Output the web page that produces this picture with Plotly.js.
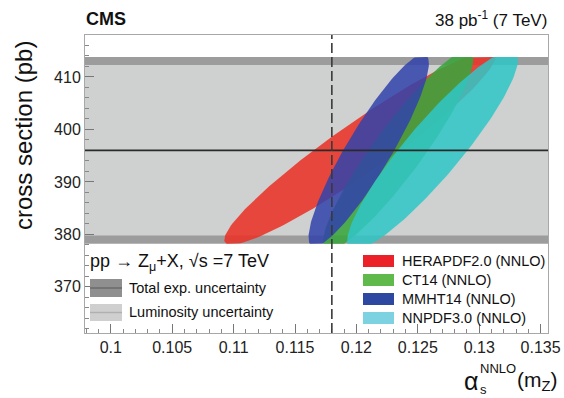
<!DOCTYPE html>
<html>
<head>
<meta charset="utf-8">
<script src="https://cdn.plot.ly/plotly-3.0.1.min.js"></script>
<style>html,body{margin:0;padding:0;background:#fff;}#chart{width:564px;height:398px;}</style>
</head>
<body>
<div id="chart"></div>
<script>
// ---- data ----
const pdfNames = ['HERAPDF2.0 (NNLO)', 'CT14 (NNLO)', 'MMHT14 (NNLO)', 'NNPDF3.0 (NNLO)'];
const alphaCenter = [0.1203, 0.1234, 0.1210, 0.1262];      // ellipse centre, alpha_s
const sigmaCenter = [396.5, 396.0, 396.0, 396.0];          // ellipse centre, pb
const alphaHalfWidth = [0.01106, 0.00612, 0.00490, 0.00696];
const sigmaHalfWidth = [18.46, 19.0, 18.34, 19.0];
const correlation = [0.948, 0.917, 0.905, 0.912];
const measuredSigma = 396.0;
const lumiBand = [379.8, 412.3];
const totalBand = [378.2, 413.8];
const alphaRef = 0.118;
const xTickVals = [0.1, 0.105, 0.11, 0.115, 0.12, 0.125, 0.13, 0.135];
const yTickVals = [370, 380, 390, 400, 410];

const fillColors = ['rgba(234,50,40,0.88)', 'rgba(58,165,60,0.88)', 'rgba(50,66,170,0.86)', 'rgba(48,198,198,0.86)'];
const legendColors = ['rgb(235,32,40)', 'rgb(95,185,75)', 'rgb(45,72,160)', 'rgb(125,210,225)'];

// ---- build ellipse outlines from the parameters ----
const N = 180;
const traces = pdfNames.map((name, i) => {
  const xs = [], ys = [];
  const r = correlation[i], q = Math.sqrt(1 - r * r);
  for (let k = 0; k <= N; k++) {
    const t = 2 * Math.PI * k / N;
    let x = alphaCenter[i] + alphaHalfWidth[i] * Math.cos(t);
    let y = sigmaCenter[i] + sigmaHalfWidth[i] * (r * Math.cos(t) + q * Math.sin(t));
    y = Math.min(Math.max(y, totalBand[0]), totalBand[1]);
    xs.push(x); ys.push(y);
  }
  return {x: xs, y: ys, type: 'scatter', mode: 'lines', fill: 'toself',
          fillcolor: fillColors[i], line: {width: 0, color: fillColors[i]},
          name: name, showlegend: false, hoverinfo: 'skip'};
});

const xLo = 0.0979, xHi = 0.1356, yLo = 361.2, yHi = 418.0;
const pl = 85, pr = 548, pt = 35, pb = 333;
const px = v => (v - pl) / (pr - pl);
const py = v => (pb - v) / (pb - pt);

const shapes = [
  {type: 'rect', xref: 'paper', yref: 'y', x0: 0, x1: 1, y0: totalBand[0], y1: totalBand[1],
   fillcolor: '#9c9c9c', line: {width: 0}, layer: 'below'},
  {type: 'rect', xref: 'paper', yref: 'y', x0: 0, x1: 1, y0: lumiBand[0], y1: lumiBand[1],
   fillcolor: '#cfd0d0', line: {width: 0}, layer: 'below'},
  {type: 'line', xref: 'paper', yref: 'y', x0: 0, x1: 1, y0: measuredSigma, y1: measuredSigma,
   line: {color: '#2a2a2a', width: 1.6}, layer: 'above'},
  {type: 'line', xref: 'x', yref: 'paper', x0: alphaRef, x1: alphaRef, y0: 0, y1: 1,
   line: {color: '#3a3a3a', width: 1.6, dash: '10px,4px'}, layer: 'above'},
];

// left legend boxes
const leftBoxes = [{y0: 279, y1: 297, fill: '#8f8f8f', line: '#6a6a6a'}, {y0: 304, y1: 321, fill: '#cfcfcf', line: '#b0b0b0'}];
leftBoxes.forEach(b => {
  shapes.push({type: 'rect', xref: 'paper', yref: 'paper', x0: px(90), x1: px(122), y0: py(b.y1), y1: py(b.y0),
               fillcolor: b.fill, line: {width: 0}});
  const m = (b.y0 + b.y1) / 2;
  shapes.push({type: 'line', xref: 'paper', yref: 'paper', x0: px(90), x1: px(122), y0: py(m), y1: py(m),
               line: {color: b.line, width: 1.5}});
});
// right legend boxes
const rowY = [261, 280, 299, 318];
rowY.forEach((yy, i) => {
  shapes.push({type: 'rect', xref: 'paper', yref: 'paper', x0: px(363), x1: px(394), y0: py(yy + 6), y1: py(yy - 6),
               fillcolor: legendColors[i], line: {width: 0}});
});

const txt = '#111';
const ff = 'Liberation Sans, Arial, sans-serif';
const ann = (text, x, y, xa, size, extra) => Object.assign({text: text, xref: 'paper', yref: 'paper', x: px(x), y: py(y),
  xanchor: xa, yanchor: 'middle', showarrow: false, font: {family: ff, size: size, color: txt}}, extra || {});
const annotations = [
  ann('<b>CMS</b>', 84, 19, 'left', 18),
  ann('38 pb<sup>-1</sup> (7 TeV)', 549, 19, 'right', 17),
  ann('cross section (pb)', 23, 136, 'center', 24, {textangle: -90}),
  ann('α', 462, 381, 'left', 25),
  ann('NNLO', 478, 368, 'left', 13),
  ann('s', 478, 389, 'left', 13),
  ann('(m<sub>Z</sub>)', 559, 381, 'right', 21),
  ann('pp → Z<sub>μ</sub>+X, √s =7 TeV', 88, 262, 'left', 18),
  ann('Total exp. uncertainty', 127, 288, 'left', 14.5),
  ann('Luminosity uncertainty', 127, 312, 'left', 14.5),
];
pdfNames.forEach((n, i) => annotations.push(ann(n, 400, rowY[i], 'left', 14.5)));

const layout = {
  width: 564, height: 398,
  margin: {l: pl, r: 564 - pr, t: pt, b: 398 - pb, pad: 0},
  paper_bgcolor: '#ffffff', plot_bgcolor: '#ffffff',
  showlegend: false,
  xaxis: {range: [xLo, xHi], tickvals: xTickVals, ticktext: xTickVals.map(String),
          ticks: 'inside', ticklen: 9, tickcolor: '#777', showgrid: false, zeroline: false,
          showline: true, linecolor: '#a8a8a8', linewidth: 1, mirror: true,
          tickfont: {family: ff, size: 16, color: '#222'},
          minor: {dtick: 0.001, tick0: 0.1, ticks: 'inside', ticklen: 4, tickcolor: '#888', showgrid: false}},
  yaxis: {range: [yLo, yHi], tickvals: yTickVals, ticktext: yTickVals.map(String),
          ticks: 'inside', ticklen: 9, tickcolor: '#777', showgrid: false, zeroline: false,
          showline: true, linecolor: '#a8a8a8', linewidth: 1, mirror: true,
          tickfont: {family: ff, size: 16, color: '#222'},
          minor: {dtick: 2, tick0: 370, ticks: 'inside', ticklen: 4, tickcolor: '#888', showgrid: false}},
  shapes: shapes,
  annotations: annotations,
};

Plotly.newPlot('chart', traces, layout, {displayModeBar: false, staticPlot: true});
</script>
</body>
</html>
